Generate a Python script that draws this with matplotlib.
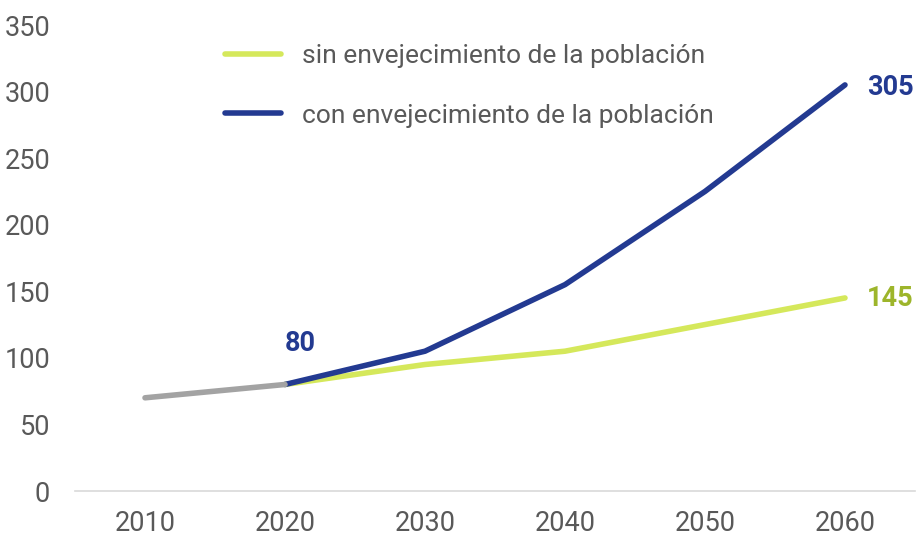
import matplotlib
matplotlib.use("Agg")
import matplotlib.pyplot as plt

plt.rcParams['font.family'] = ['Roboto', 'DejaVu Sans']

years_hist = [2010, 2020]
hist_vals = [70, 80]
years_proj = [2020, 2030, 2040, 2050, 2060]
sin_vals = [80, 95, 105, 125, 145]
con_vals = [80, 105, 155, 225, 305]
xticks = [2010, 2020, 2030, 2040, 2050, 2060]
yticks = [0, 50, 100, 150, 200, 250, 300, 350]
label_sin = "sin envejecimiento de la población"
label_con = "con envejecimiento de la población"

GREEN = "#D5E85B"
GREEN_TXT = "#9DB52B"
BLUE = "#233A91"
GRAY = "#A3A3A3"
TICK = "#595959"
FS = 19.5

fig = plt.figure(figsize=(9.19, 5.37), dpi=100)
ax = fig.add_axes([75/919, 46/537, 840/919, 466/537])

lw = 4
ax.plot(years_proj, sin_vals, color=GREEN, lw=lw, solid_capstyle='round', solid_joinstyle='round', label=label_sin, zorder=3)
ax.plot(years_proj, con_vals, color=BLUE, lw=lw, solid_capstyle='round', solid_joinstyle='round', label=label_con, zorder=4)
ax.plot(years_hist, hist_vals, color=GRAY, lw=lw, solid_capstyle='round', zorder=5)

ax.set_xlim(2005, 2065)
ax.set_ylim(0, 350)
ax.set_xticks(xticks)
ax.set_yticks(yticks)
ax.tick_params(axis='both', length=0, labelsize=FS, labelcolor=TICK)
ax.tick_params(axis='y', pad=18)
ax.tick_params(axis='x', pad=14)
for s in ['top', 'right', 'left']:
    ax.spines[s].set_visible(False)
ax.spines['bottom'].set_color('#D9D9D9')
ax.spines['bottom'].set_linewidth(1.2)

ax.annotate(str(hist_vals[-1]), xy=(years_hist[-1], hist_vals[-1]), xytext=(15, 41),
            textcoords='offset pixels', ha='center', va='center',
            fontsize=FS, fontweight='bold', color=BLUE)
ax.annotate(str(con_vals[-1]), xy=(years_proj[-1], con_vals[-1]), xytext=(45, -3),
            textcoords='offset pixels', ha='center', va='center',
            fontsize=FS, fontweight='bold', color=BLUE)
ax.annotate(str(sin_vals[-1]), xy=(years_proj[-1], sin_vals[-1]), xytext=(45, -1),
            textcoords='offset pixels', ha='center', va='center',
            fontsize=FS, fontweight='bold', color=GREEN_TXT)

leg = ax.legend(loc='upper left', bbox_to_anchor=(212/919, 1 - 31/537),
                bbox_transform=fig.transFigure, frameon=False, fontsize=19,
                handlelength=2.1, handletextpad=0.8, labelspacing=1.34,
                borderpad=0)
for t in leg.get_texts():
    t.set_color(TICK)

fig.savefig("out.png", dpi=100)
